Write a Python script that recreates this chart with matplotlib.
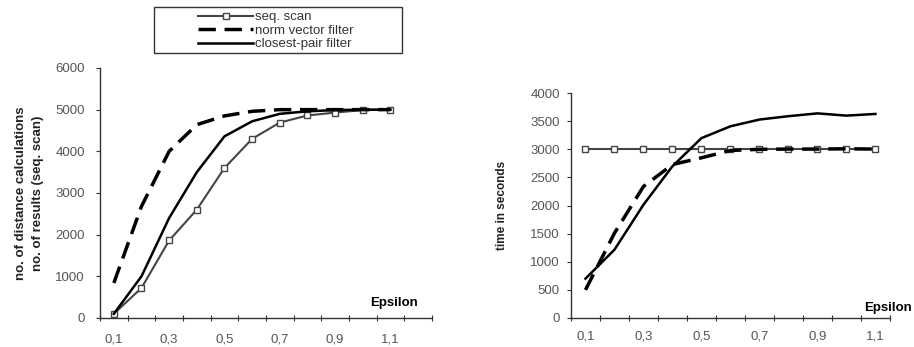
import numpy as np
import matplotlib
matplotlib.use("Agg")
import matplotlib.pyplot as plt
from matplotlib.patches import Rectangle

plt.rcParams['font.family'] = ['Liberation Sans', 'DejaVu Sans']

# Epsilon categories (left chart has one empty slot at the end)
eps = [0.1, 0.2, 0.3, 0.4, 0.5, 0.6, 0.7, 0.8, 0.9, 1.0, 1.1]
tick_labels = ["0,1", "0,3", "0,5", "0,7", "0,9", "1,1"]

# Left: number of distance calculations
calc_seq = [100, 720, 1860, 2600, 3600, 4300, 4690, 4860, 4930, 4990, 5000]
calc_norm = [840, 2680, 4000, 4640, 4850, 4960, 5000, 5000, 5000, 5000, 5000]
calc_pair = [100, 1000, 2400, 3500, 4360, 4720, 4900, 4960, 4990, 5000, 5000]

# Right: time in seconds
time_seq = [3000, 3000, 3000, 3000, 3000, 3000, 3000, 3000, 3000, 3000, 3000]
time_norm = [500, 1510, 2340, 2730, 2850, 2980, 3000, 3005, 3005, 3010, 3005]
time_pair = [700, 1215, 2015, 2700, 3200, 3410, 3530, 3590, 3640, 3600, 3630]

grey = '#555555'
W, H = 914, 347
fig = plt.figure(figsize=(W / 100, H / 100), dpi=100)
ax1 = fig.add_axes([0.1094, 0.0836, 0.3632, 0.7205])
ax2 = fig.add_axes([0.6247, 0.0836, 0.349, 0.648])


def style(ax, xmax, ymax, ystep, xpad, ypad):
    ax.set_xlim(0.05, xmax)
    ax.set_ylim(0, ymax)
    for s in ['top', 'right']:
        ax.spines[s].set_visible(False)
    for s in ['left', 'bottom']:
        ax.spines[s].set_color('#333333')
        ax.spines[s].set_linewidth(1.0)
    bounds = np.arange(0.05, xmax + 0.001, 0.1)
    ax.set_xticks(bounds)
    ax.set_xticklabels([])
    ax.set_xticks([0.1, 0.3, 0.5, 0.7, 0.9, 1.1], minor=True)
    ax.set_xticklabels(tick_labels, minor=True)
    ax.tick_params(axis='x', which='major', direction='inout', length=5, color='#333333')
    ax.tick_params(axis='x', which='minor', length=0, pad=xpad, labelsize=9.5, labelcolor=grey)
    ax.set_yticks(np.arange(0, ymax + 1, ystep))
    ax.tick_params(axis='y', direction='out', length=3, pad=ypad, labelsize=9.5,
                   labelcolor=grey, color='#333333')


style(ax1, 1.25, 6000, 1000, 11, 8)
style(ax2, 1.15, 4000, 500, 9, 5)

for ax, seq, norm, pair in [(ax1, calc_seq, calc_norm, calc_pair),
                            (ax2, time_seq, time_norm, time_pair)]:
    ax.plot(eps, seq, color='#444444', lw=1.5, marker='s', ms=4,
            mfc='white', mec='#444444', mew=1, label='seq. scan', clip_on=False)
    ax.plot(eps, norm, color='black', lw=2.5, dashes=(5, 2.5), label='norm vector filter')
    ax.plot(eps, pair, color='black', lw=1.8, label='closest-pair filter')

ax1.text(0.958, 0.06, 'Epsilon', transform=ax1.transAxes, ha='right', va='center',
         fontsize=9.5, fontweight='bold')
ax2.text(1.07, 0.044, 'Epsilon', transform=ax2.transAxes, ha='right', va='center',
         fontsize=9.5, fontweight='bold')

ax1.set_ylabel('no. of distance calculations\nno. of results (seq. scan)',
               fontsize=9.5, fontweight='bold', color='#222222', labelpad=8, linespacing=1.6)
ax2.set_ylabel('time in seconds', fontsize=8.5, fontweight='bold', color='#222222', labelpad=16)

# legend box drawn separately (it is wider than its contents)
fig.patches.append(Rectangle((154 / W, 1 - 53 / H), 248 / W, 46 / H, transform=fig.transFigure,
                             fill=False, edgecolor='#333333', lw=1.0))
handles, labels = ax1.get_legend_handles_labels()
leg = fig.legend(handles, labels, loc='upper left', bbox_to_anchor=(198 / W, 1 - 11 / H),
                 fontsize=9.5, frameon=False, handlelength=4.2, handletextpad=0.15,
                 labelspacing=0.1, borderpad=0, borderaxespad=0)
for t in leg.get_texts():
    t.set_color('#333333')

fig.savefig('out.png', dpi=100)
